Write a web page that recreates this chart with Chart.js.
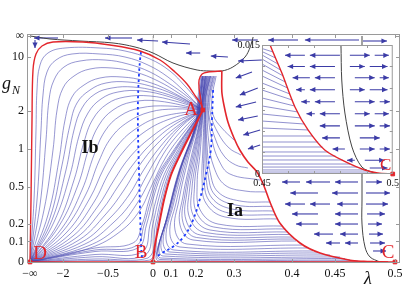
<!DOCTYPE html>
<html><head><meta charset="utf-8">
<script src="https://cdn.jsdelivr.net/npm/chart.js@4/dist/chart.umd.min.js"></script>
<style>
html,body{margin:0;padding:0;background:#fff;}
#wrap{position:relative;width:415px;height:298px;overflow:hidden;}
#main{position:absolute;left:0;top:0;}
#inset{position:absolute;left:232px;top:36px;}
</style></head>
<body><div id="wrap"><canvas id="main" width="415" height="298"></canvas><canvas id="inset" width="170" height="156"></canvas></div>
<script>
// ---------- tick labels ----------
const xTickVals = [-Infinity,-2,-0.5,0,0.1,0.2,0.3,0.4,0.45,0.5];
const xTickLabels = ['\u2212\u221e','\u22122','\u22120.5','0','0.1','0.2','0.3','0.4','0.45','0.5'];
const yTickVals = [0,0.1,0.2,0.5,1,2,10,Infinity];
const yTickLabels = ['0','0.1','0.2','0.5','1','2','10','\u221e'];
const insetXTicks = [0.45,0.5];
const insetXLabels = ['0.45','0.5'];
const insetYTicks = [0,0.015];
const insetYLabels = ['0','0.015'];

// ---------- fixed points (lambda, g_N) ----------
const fixedPoints = [[-Infinity,0],[0,0],[0.218,2.054],[0.5,0]]; // D, B, A, C

// ---------- separatrices ----------
const sepOuter = [[-Infinity,0],[-66,0.378],[-33,1.69],[-22,5.647],[-11,11.56],[-5.5,21.6],[-2.87,36.7],[-1.333,36.7],[-0.478,24.1],[-0.144,14.07],[0.039,8.417],[0.116,5.278],[0.164,3.708],[0.2,2.705],[0.213,2.324],[0.218,2.054]];
const sepBA = [[0,0],[0.011,0.081],[0.033,0.196],[0.061,0.378],[0.1,0.626],[0.136,0.899],[0.176,1.283],[0.205,1.69],[0.218,2.054]];
const sepNeck = [[0.218,2.054],[0.213,2.531],[0.208,3.346],[0.208,4.136],[0.216,4.947],[0.232,5.278],[0.268,5.457]];
const sepAC = [[0.268,5.457],[0.268,3.036],[0.274,2.229],[0.284,1.628],[0.3,1.216],[0.31,0.982],[0.324,0.794],[0.3397,0.662],[0.3517,0.507],[0.362,0.361],[0.379,0.209],[0.4093,0.0918],[0.4326,0.0415],[0.4626,0.0078],[0.474,0.0028],[0.4828,0.0013],[0.4943,0.0001]];
const sepBottom = [[-Infinity,0],[0.5,0]];

// ---------- singular lines ----------
const blackTop = [[-Infinity,Infinity],[-9.43,225],[-3.3,74.3],[-1.433,44.2],[-0.444,31.3],[-0.2,19.55],[0,12.29],[0.108,7.37],[0.203,5.647],[0.237,5.457],[0.268,5.457],[0.297,6.29],[0.319,9.76],[0.328,19.55],[0.333,225]];
const blackRight = [[0.4725,Infinity],[0.4725,0.378],[0.4725,0.202],[0.475,0.0711],[0.4792,0.0226],[0.4875,0]];
const lambdaZero = [[0,0],[0,Infinity]];

// ---------- streamlines, region Ib ----------
const flowIb = [
 [[-Infinity,0],[-16.5,0.378],[-11,1.404],[-9.43,3.185],[-6.6,6.793],[-3.67,12.29],[-1.933,17.83],[-0.767,17.83],[-0.311,14.07],[-0.033,8.826],[0.094,5.457],[0.156,3.52],[0.2,2.587],[0.218,2.054]],
 [[-Infinity,0],[-9.43,0.378],[-6,1.404],[-5.08,2.831],[-3.88,5.278],[-2.54,8.417],[-1.7,11.56],[-0.767,11.56],[-0.311,9.76],[-0.056,6.793],[0.083,4.512],[0.152,3.109],[0.218,2.054]],
 [[-Infinity,0],[-6.6,0.337],[-4.125,1.173],[-3.47,2.531],[-2.75,4.136],[-1.967,6.29],[-1.433,8.04],[-0.6,8.417],[-0.278,7.071],[-0.033,5.278],[0.094,3.708],[0.168,2.705],[0.218,2.054]],
 [[-Infinity,0],[-4.71,0.299],[-2.87,0.982],[-2.44,2.054],[-2,3.346],[-1.633,4.65],[-1.1,5.848],[-0.456,6.063],[-0.2,5.278],[0.028,4.022],[0.136,2.897],[0.218,2.054]],
 [[-Infinity,0],[-3.67,0.263],[-2.276,0.823],[-1.933,1.69],[-1.7,2.705],[-1.3,3.612],[-0.767,4.381],[-0.344,4.512],[-0.089,4.022],[0.094,3.109],[0.218,2.054]],
 [[-Infinity,0],[-3.3,0.242],[-2.06,0.752],[-1.767,1.539],[-1.533,2.373],[-1.1,3.185],[-0.567,3.809],[-0.278,3.913],[-0.033,3.52],[0.116,2.831],[0.218,2.054]],
 [[-Infinity,0],[-3,0.228],[-1.9,0.687],[-1.633,1.404],[-1.367,2.139],[-0.933,2.897],[-0.456,3.346],[-0.222,3.431],[0.0167,3.109],[0.136,2.587],[0.218,2.054]],
 [[-Infinity,0],[-2.75,0.215],[-1.767,0.626],[-1.467,1.26],[-1.167,1.935],[-0.733,2.587],[-0.389,3.036],[-0.122,3.109],[0.094,2.705],[0.218,2.054]],
 [[-Infinity,0],[-2.44,0.196],[-1.633,0.569],[-1.3,1.132],[-1,1.723],[-0.533,2.324],[-0.311,2.705],[-0.033,2.767],[0.116,2.477],[0.218,2.054]],
 [[-Infinity,0],[-2.276,0.189],[-1.5,0.517],[-1.133,1.018],[-0.8,1.539],[-0.444,2.054],[-0.233,2.424],[0.028,2.477],[0.218,2.054]],
 [[-Infinity,0],[-2.06,0.177],[-1.367,0.4675],[-0.967,0.899],[-0.6,1.379],[-0.367,1.825],[-0.144,2.139],[0.083,2.229],[0.218,2.054]],
 [[-Infinity,0],[-1.967,0.165],[-1.233,0.43],[-0.8,0.808],[-0.467,1.216],[-0.278,1.628],[-0.033,1.974],[0.116,2.096],[0.218,2.054]],
 [[-Infinity,0],[-1.867,0.153],[-1.1,0.395],[-0.633,0.712],[-0.389,1.073],[-0.178,1.457],[0.039,1.79],[0.218,2.054]],
 [[-Infinity,0],[-1.767,0.141],[-0.967,0.361],[-0.489,0.65],[-0.322,0.965],[-0.111,1.33],[0.078,1.69],[0.218,2.054]],
 [[-Infinity,0],[-1.667,0.13],[-0.833,0.329],[-0.433,0.569],[-0.256,0.868],[-0.033,1.216],[0.112,1.628],[0.218,2.054]],
 [[-Infinity,0],[-1.567,0.119],[-0.7,0.299],[-0.378,0.517],[-0.2,0.794],[0.0056,1.152],[0.124,1.598],[0.218,2.054]],
 [[-Infinity,0],[-1.467,0.108],[-0.567,0.27],[-0.322,0.4675],[-0.156,0.738],[0.022,1.093],[0.136,1.568],[0.218,2.054]],
 [[-Infinity,0],[-1.367,0.0971],[-0.478,0.242],[-0.267,0.421],[-0.111,0.674],[0.039,1.036],[0.14,1.539],[0.218,2.054]],
 [[-Infinity,0],[-1.267,0.0865],[-0.433,0.215],[-0.222,0.378],[-0.067,0.626],[0.05,0.982],[0.144,1.511],[0.218,2.054]],
 [[-Infinity,0],[-1.167,0.0762],[-0.389,0.183],[-0.189,0.337],[-0.033,0.569],[0.061,0.932],[0.148,1.43],[0.218,2.054]],
 [[-Infinity,0],[-1.1,0.066],[-0.356,0.159],[-0.144,0.299],[-0.011,0.517],[0.072,0.868],[0.152,1.354],[0.218,2.054]],
 [[-Infinity,0],[-0.933,0.066],[-0.222,0.0918],[-0.122,0.196],[-0.044,0.378],[0.028,0.626],[0.097,0.899],[0.153,1.283],[0.218,2.054]],
 [[-Infinity,0],[-0.933,0.056],[-0.189,0.0762],[-0.1,0.196],[-0.022,0.378],[0.0367,0.626],[0.103,0.899],[0.156,1.283],[0.218,2.054]],
 [[-Infinity,0],[-0.933,0.0487],[-0.167,0.066],[-0.073,0.196],[-0.002,0.378],[0.046,0.626],[0.108,0.899],[0.159,1.283],[0.218,2.054]],
 [[-Infinity,0],[-0.933,0.0343],[-0.122,0.0463],[-0.033,0.196],[0.0167,0.378],[0.061,0.626],[0.116,0.899],[0.164,1.283],[0.218,2.054]],
 [[-Infinity,0],[-0.933,0.0238],[-0.089,0.032],[-0.003,0.196],[0.03,0.378],[0.073,0.626],[0.122,0.899],[0.168,1.283],[0.218,2.054]],
 [[-Infinity,0],[-0.933,0.0135],[-0.056,0.018],[0.013,0.196],[0.043,0.378],[0.084,0.626],[0.128,0.899],[0.171,1.283],[0.218,2.054]],
 [[-Infinity,0],[-0.933,0.0067],[-0.033,0.0089],[0.023,0.196],[0.052,0.378],[0.092,0.626],[0.132,0.899],[0.174,1.283],[0.218,2.054]]
];

// ---------- streamlines, region Ia ----------
const flowIa = [
 [[0.253,4.65],[0.242,2.645],[0.245,1.861],[0.268,1.457],[0.3,1.173]],
 [[0.25,4.65],[0.237,2.645],[0.239,1.861],[0.258,1.33],[0.287,1.018],[0.312,0.899]],
 [[0.247,4.65],[0.234,2.645],[0.234,1.861],[0.25,1.216],[0.274,0.883],[0.303,0.752],[0.324,0.712]],
 [[0.245,4.65],[0.232,2.645],[0.232,1.861],[0.242,1.173],[0.261,0.808],[0.289,0.638],[0.345,0.569]],
 [[0.242,4.65],[0.229,2.645],[0.229,1.861],[0.234,1.112],[0.247,0.725],[0.276,0.517],[0.319,0.458],[0.355,0.449]],
 [[0.239,4.65],[0.226,2.645],[0.226,1.861],[0.229,1.073],[0.237,0.662],[0.258,0.449],[0.31,0.37],[0.362,0.361]],
 [[0.2382,4.65],[0.225,2.645],[0.225,1.861],[0.2263,1.045],[0.2316,0.638],[0.25,0.421],[0.3034,0.337],[0.3655,0.326]],
 [[0.237,4.65],[0.224,2.645],[0.224,1.861],[0.224,1.018],[0.226,0.614],[0.242,0.395],[0.295,0.306],[0.369,0.291]],
 [[0.2355,4.65],[0.2224,2.645],[0.2224,1.861],[0.221,1.0],[0.221,0.592],[0.2342,0.374],[0.2855,0.277],[0.3724,0.263]],
 [[0.234,4.65],[0.221,2.645],[0.221,1.861],[0.218,0.982],[0.216,0.569],[0.226,0.353],[0.276,0.249],[0.376,0.235]],
 [[0.232,4.65],[0.221,2.645],[0.218,1.861],[0.211,0.948],[0.203,0.527],[0.211,0.299],[0.258,0.202],[0.384,0.189]],
 [[0.2303,4.65],[0.2197,2.645],[0.2171,1.861],[0.2066,0.932],[0.194,0.507],[0.2013,0.2815],[0.247,0.183],[0.3888,0.171]],
 [[0.229,4.65],[0.218,2.645],[0.216,1.861],[0.203,0.915],[0.184,0.487],[0.188,0.263],[0.237,0.165],[0.393,0.153]],
 [[0.2276,4.65],[0.218,2.645],[0.2145,1.825],[0.198,0.899],[0.174,0.4675],[0.174,0.2452],[0.224,0.1501],[0.397,0.1385]],
 [[0.226,4.65],[0.218,2.645],[0.213,1.79],[0.192,0.883],[0.164,0.449],[0.16,0.228],[0.211,0.136],[0.4,0.124]],
 [[0.225,4.65],[0.2171,2.645],[0.2118,1.773],[0.186,0.868],[0.156,0.43],[0.148,0.2118],[0.2013,0.1216],[0.4023,0.113]],
 [[0.224,4.65],[0.216,2.645],[0.211,1.756],[0.18,0.852],[0.148,0.4125],[0.136,0.196],[0.188,0.108],[0.4047,0.1024]],
 [[0.224,4.65],[0.216,2.645],[0.208,1.723],[0.168,0.823],[0.132,0.378],[0.116,0.165],[0.164,0.0865],[0.4116,0.081]],
 [[0.221,4.65],[0.213,2.645],[0.205,1.69],[0.16,0.794],[0.12,0.353],[0.094,0.141],[0.136,0.0711],[0.4174,0.066]],
 [[0.221,4.65],[0.213,2.645],[0.205,1.659],[0.152,0.766],[0.108,0.329],[0.072,0.119],[0.112,0.056],[0.4244,0.0512]],
 [[0.218,4.65],[0.211,2.645],[0.203,1.628],[0.144,0.738],[0.1,0.306],[0.056,0.1024],[0.094,0.0463],[0.4326,0.0415]],
 [[0.218,4.65],[0.211,2.645],[0.203,1.598],[0.14,0.712],[0.089,0.284],[0.044,0.0865],[0.072,0.0367],[0.4442,0.032]],
 [[0.218,4.65],[0.211,2.645],[0.2,1.568],[0.136,0.687],[0.083,0.263],[0.033,0.0711],[0.056,0.0273],[0.4542,0.0226]],
 [[0.216,4.65],[0.208,2.645],[0.2,1.539],[0.132,0.662],[0.078,0.242],[0.028,0.056],[0.044,0.018],[0.4583,0.0157]],
 [[0.216,4.65],[0.208,2.645],[0.196,1.511],[0.128,0.638],[0.072,0.222],[0.022,0.0415],[0.039,0.0112],[0.4625,0.0089]],
 [[0.213,4.65],[0.205,2.645],[0.196,1.484],[0.128,0.614],[0.067,0.202],[0.0167,0.0273],[0.033,0.0044],[0.469,0.0044]]
];

// ---------- arrow-head loci (blue dashed) ----------
const dashIb = [[-0.133,13.1],[-0.144,8.417],[-0.156,4.795],[-0.167,2.531],[-0.167,1.404],[-0.156,0.687],[-0.144,0.299],[-0.133,0.081],[-0.122,0.018]];
const dashIa = [[0.245,3.185],[0.242,1.69],[0.239,0.982],[0.226,0.626],[0.211,0.395],[0.188,0.228],[0.156,0.136],[0.112,0.0762],[0.05,0.0415],[0.0167,0.0226]];

// ---------- flow arrows outside Ia/Ib: [lambda0,g0 -> lambda1,g1] ----------
const quiverMain = [
 [-2.357,112,-16.5,112],[-0.233,112,-0.6,112],[0.028,44.2,-0.178,55.5],[0.176,27.25,0.05,36.7],
 [0.341,55.5,0.295,55.5],[0.407,55.5,0.359,55.5],[0.47,55.5,0.415,55.5],[0.4733,44.2,0.4933,44.2],
 [-13.2,55.5,-13.2,17.83],
 [0.211,12.29,0.16,12.29],[0.284,9.76,0.239,10.3],[0.348,8.42,0.307,8.04],
 [0.331,5.278,0.303,4.381],[0.341,3.346,0.31,2.831],[0.338,2.424,0.303,2.183],[0.341,1.825,0.307,1.69],[0.345,1.404,0.316,1.283],[0.345,1.073,0.324,1.0],
 [0.4093,0.548,0.3828,0.548],[0.4442,0.548,0.4163,0.548],[0.4692,0.548,0.45,0.548],[0.4758,0.548,0.4892,0.548],
 [0.4302,0.4395,0.397,0.4395],[0.4692,0.4395,0.4465,0.4395],[0.4758,0.4395,0.4958,0.4395],
 [0.4151,0.345,0.3879,0.345],[0.4442,0.345,0.4209,0.345],[0.4692,0.345,0.4517,0.345],[0.4758,0.345,0.4942,0.345],
 [0.4302,0.27,0.4,0.27],[0.4692,0.27,0.45,0.27],[0.4767,0.27,0.4917,0.27],
 [0.4302,0.202,0.4047,0.202],[0.4692,0.202,0.45,0.202],[0.4775,0.202,0.4892,0.202],
 [0.4477,0.141,0.4256,0.141],[0.4692,0.141,0.4542,0.141],[0.4783,0.141,0.49,0.141],
 [0.4542,0.0918,0.4395,0.0918],[0.4692,0.0918,0.4583,0.0918],[0.4792,0.0918,0.4917,0.0918],
 [0.4817,0.0512,0.4925,0.0512]
];

// ---------- inset (0.45<lambda<0.5, 0<g<0.015) ----------
const insetFlow = [
 [[0.45,0.01459],[0.4542,0.01419]],[[0.45,0.01424],[0.4552,0.01349]],[[0.45,0.01384],[0.4561,0.01279]],
 [[0.45,0.01337],[0.4571,0.01209]],[[0.45,0.01279],[0.4581,0.0114]],[[0.45,0.01209],[0.4589,0.0107]],
 [[0.45,0.0114],[0.4598,0.0100]],[[0.45,0.01058],[0.4607,0.0093]],[[0.45,0.00977],[0.4616,0.0086]],
 [[0.45,0.00884],[0.4624,0.00791]],[[0.45,0.00791],[0.4637,0.00721]],[[0.45,0.00698],[0.465,0.00651]],
 [[0.45,0.00616],[0.4663,0.00581]],[[0.45,0.00535],[0.4676,0.00512]],[[0.45,0.00442],[0.4695,0.00442]],
 [[0.45,0.00372],[0.4715,0.00372]],[[0.45,0.00314],[0.4731,0.00314]],[[0.45,0.00256],[0.4754,0.00256]],
 [[0.45,0.00209],[0.4781,0.00209]],[[0.45,0.00163],[0.4808,0.00163]],[[0.45,0.00116],[0.4837,0.00116]],
 [[0.45,0.00081],[0.4865,0.00081]],[[0.45,0.00047],[0.4893,0.00047]],[[0.45,0.00023],[0.4926,0.00023]]
];
const insetRed = [[0.4515,0.0165],[0.4531,0.015],[0.4576,0.01174],[0.4626,0.00779],[0.4676,0.00512],[0.474,0.00279],[0.4828,0.00128],[0.4893,0.000465],[0.4943,0.000116],[0.5,0]];
const insetBlack = [[0.48,0.0165],[0.4802,0.015],[0.4805,0.01093],[0.4817,0.00709],[0.4844,0.00314],[0.4882,0.00081],[0.4931,0.00012],[0.496,0]];
const insetBottom = [[0.45,0],[0.5,0]];
const insetQuiver = [
 [0.4798,0.0138,0.4683,0.0138],[0.4664,0.0138,0.4588,0.0138],[0.4836,0.0138,0.4912,0.0138],[0.4931,0.0138,0.4985,0.0138],
 [0.4779,0.0125,0.4683,0.0125],[0.4664,0.0125,0.4598,0.0125],[0.4836,0.0125,0.4893,0.0125],[0.4912,0.0125,0.4980,0.0125],
 [0.4779,0.0112,0.4702,0.0112],[0.4683,0.0112,0.4617,0.0112],[0.4855,0.0112,0.4931,0.0112],[0.4950,0.0112,0.4985,0.0112],
 [0.4779,0.0098,0.4683,0.0098],[0.4664,0.0098,0.4630,0.0098],[0.4836,0.0098,0.4893,0.0098],[0.4912,0.0098,0.4980,0.0098],
 [0.4779,0.0084,0.4702,0.0084],[0.4683,0.0084,0.4650,0.0084],[0.4855,0.0084,0.4931,0.0084],[0.4950,0.0084,0.4989,0.0084],
 [0.4798,0.0070,0.4721,0.0070],[0.4702,0.0070,0.4670,0.0070],[0.4855,0.0070,0.4912,0.0070],[0.4931,0.0070,0.4985,0.0070],
 [0.4798,0.0056,0.4721,0.0056],[0.4855,0.0056,0.4931,0.0056],[0.4950,0.0056,0.4989,0.0056],
 [0.4798,0.0042,0.4730,0.0042],[0.4874,0.0042,0.4950,0.0042],
 [0.4817,0.0029,0.4770,0.0029],[0.4874,0.0029,0.4931,0.0029],[0.4950,0.0029,0.4989,0.0029],
 [0.4855,0.0016,0.4825,0.0016],[0.4893,0.0016,0.4969,0.0016],
 [0.4912,0.0007,0.4980,0.0007]
];

// ---------- annotations ----------
const pointNames = [{t:'A',l:0.18,g:2.054},{t:'B',l:-0.133,g:0.0415},{t:'C',l:0.4942,g:0.0415},{t:'D',l:-6.6,g:0.0367}];
const regionNames = [{t:'Ib',l:-1.1,g:1.018},{t:'Ia',l:0.3017,g:0.291}];

// ---------- compactified axes ----------
const warpLam = [-2,-0.5,0,0.1,0.2,0.3,0.4,0.45,0.5];
const warpPos = [33,78,123,141,166,204,262,305,365];
function toU(l){
  if(l===-Infinity) return 0;
  if(l<=-2) return 33*(-2/l);
  for(let i=0;i<warpLam.length-1;i++){
    if(l<=warpLam[i+1]) return warpPos[i]+(l-warpLam[i])/(warpLam[i+1]-warpLam[i])*(warpPos[i+1]-warpPos[i]);
  }
  const n=warpLam.length-1;
  return warpPos[n]+(l-warpLam[n])*(warpPos[n]-warpPos[n-1])/(warpLam[n]-warpLam[n-1]);
}
function toV(g){ return g===Infinity?1:g/(1+g); }

const SERIF='"Liberation Serif","DejaVu Serif",serif';
const RED='#e3262c', FLOW='rgba(70,70,175,0.75)', ARROW='#3b3ba6', DASH='#1d3cff', BLK='#444';

const P = pts => pts.map(([l,g])=>({x:toU(l),y:toV(g)}));
const PI = pts => pts.map(([l,g])=>({x:l,y:g}));
function ds(data,color,width,extra){
  return Object.assign({data:data,showLine:true,pointRadius:0,borderColor:color,backgroundColor:color,borderWidth:width,fill:false,tension:0.4},extra||{});
}

const arrowPlugin = {
  id:'arrowheads',
  afterDatasetsDraw(chart){
    const ctx=chart.ctx, a=chart.chartArea;
    ctx.save(); ctx.beginPath(); ctx.rect(a.left,a.top,a.right-a.left,a.bottom-a.top); ctx.clip();
    chart.data.datasets.forEach((d,i)=>{
      if(!d.arrow) return;
      const pts=chart.getDatasetMeta(i).data; const p1=pts[pts.length-1], p0=pts[pts.length-2];
      const ang=Math.atan2(p1.y-p0.y,p1.x-p0.x); const L=5.5, W=2.6;
      const c=Math.cos(ang), s=Math.sin(ang);
      ctx.fillStyle=d.borderColor; ctx.beginPath();
      ctx.moveTo(p1.x,p1.y);
      ctx.lineTo(p1.x-L*c+W*s, p1.y-L*s-W*c);
      ctx.lineTo(p1.x-L*c-W*s, p1.y-L*s+W*c);
      ctx.closePath(); ctx.fill();
    });
    ctx.restore();
  }
};

function frameTicks(chart, xs, ys, len){
  const ctx=chart.ctx, a=chart.chartArea, x=chart.scales.x, y=chart.scales.y;
  ctx.save(); ctx.strokeStyle='#9a9a9a'; ctx.lineWidth=1;
  ctx.strokeRect(a.left+0.5,a.top+0.5,a.right-a.left-1,a.bottom-a.top-1);
  ctx.beginPath();
  xs.forEach(v=>{ const px=Math.round(x.getPixelForValue(v))+0.5; ctx.moveTo(px,a.bottom); ctx.lineTo(px,a.bottom-len); ctx.moveTo(px,a.top); ctx.lineTo(px,a.top+len); });
  ys.forEach(v=>{ const py=Math.round(y.getPixelForValue(v))+0.5; ctx.moveTo(a.left,py); ctx.lineTo(a.left+len,py); ctx.moveTo(a.right,py); ctx.lineTo(a.right-len,py); });
  ctx.stroke(); ctx.restore();
}

const mainDecor = {
  id:'mainDecor',
  afterDraw(chart){
    frameTicks(chart, xTickVals.map(toU), yTickVals.map(toV), 4);
    const ctx=chart.ctx, x=chart.scales.x, y=chart.scales.y;
    ctx.save(); ctx.textAlign='center'; ctx.textBaseline='middle';
    ctx.fillStyle=RED; ctx.font='19px '+SERIF;
    pointNames.forEach(p=>ctx.fillText(p.t, x.getPixelForValue(toU(p.l)), y.getPixelForValue(toV(p.g))));
    ctx.fillStyle='#111'; ctx.font='bold 18px '+SERIF;
    regionNames.forEach(p=>ctx.fillText(p.t, x.getPixelForValue(toU(p.l)), y.getPixelForValue(toV(p.g))));
    ctx.textBaseline='alphabetic';
    ctx.font='italic 18px '+SERIF; ctx.fillText('\u03bb', 368, 284);
    ctx.textAlign='left';
    ctx.font='italic 18px '+SERIF; ctx.fillText('g', 2, 89);
    ctx.font='italic 12px '+SERIF; ctx.fillText('N', 12, 94);
    ctx.restore();
  }
};

// ---------- main chart datasets ----------
const mainSets = [];
flowIb.forEach(f=>mainSets.push(ds(P(f),FLOW,0.75,{order:5})));
flowIa.forEach(f=>mainSets.push(ds(P(f),FLOW,0.75,{order:5})));
mainSets.push(ds(P(lambdaZero),'#b5b5b5',0.8,{order:6,tension:0}));
mainSets.push(ds(P(blackTop),BLK,1,{order:2,tension:0.35}));
mainSets.push(ds(P(blackRight),BLK,1,{order:2,tension:0.35}));
mainSets.push(ds(P(dashIb),DASH,1.8,{order:1,borderDash:[2.5,3]}));
mainSets.push(ds(P(dashIa),DASH,1.8,{order:1,borderDash:[2.5,3]}));
quiverMain.forEach(q=>mainSets.push(ds(P([[q[0],q[1]],[q[2],q[3]]]),ARROW,1.1,{order:3,tension:0,arrow:true})));
mainSets.push(ds(P(sepBottom),RED,1.6,{order:0,tension:0}));
mainSets.push(ds(P(sepOuter),RED,1.4,{order:0,tension:0.35}));
mainSets.push(ds(P(sepBA),RED,2,{order:0,tension:0.3}));
mainSets.push(ds(P(sepNeck),RED,1.3,{order:0,tension:0.3}));
mainSets.push(ds(P(sepAC),RED,1.6,{order:0,tension:0.3}));
mainSets.push({data:P(fixedPoints),showLine:false,pointRadius:2.6,pointStyle:'rect',pointBackgroundColor:RED,pointBorderColor:RED,order:-1,clip:false});

new Chart(document.getElementById('main'),{
  type:'scatter',
  data:{datasets:mainSets},
  options:{
    responsive:false, animation:false, events:[],
    layout:{padding:{top:34,right:15,left:0,bottom:0}},
    plugins:{legend:{display:false},tooltip:{enabled:false}},
    scales:{
      x:{type:'linear',min:-3,max:370,grid:{display:false,drawTicks:false},border:{display:false},
         afterBuildTicks:s=>{s.ticks=xTickVals.map(l=>({value:toU(l)}));},
         afterFit:s=>{s.height=35;},
         ticks:{autoSkip:false,maxRotation:0,padding:4,color:'#111',font:{family:SERIF,size:12},callback:(v,i)=>xTickLabels[i]}},
      y:{type:'linear',min:-1/226,max:1+2/226,grid:{display:false,drawTicks:false},border:{display:false},
         afterBuildTicks:s=>{s.ticks=yTickVals.map(g=>({value:toV(g)}));},
         afterFit:s=>{s.width=27;},
         ticks:{autoSkip:false,padding:3,color:'#111',font:{family:SERIF,size:12},callback:(v,i)=>yTickLabels[i]}}
    }
  },
  plugins:[arrowPlugin,mainDecor]
});

// ---------- inset chart ----------
const insetDecor = {
  id:'insetDecor',
  beforeDatasetsDraw(chart){
    const ctx=chart.ctx,a=chart.chartArea; ctx.save(); ctx.fillStyle='#fff'; ctx.fillRect(a.left,a.top,a.right-a.left,a.bottom-a.top); ctx.restore();
  },
  afterDraw(chart){
    frameTicks(chart,[0.46,0.47,0.48,0.49],[0.0025,0.005,0.0075,0.01,0.0125],3);
    const ctx=chart.ctx,x=chart.scales.x,y=chart.scales.y;
    ctx.save(); ctx.fillStyle=RED; ctx.font='17px '+SERIF; ctx.textAlign='center'; ctx.textBaseline='middle';
    ctx.fillText('C', x.getPixelForValue(0.4973), y.getPixelForValue(0.00093));
    ctx.restore();
  }
};
const insetSets = [];
insetFlow.forEach(f=>insetSets.push(ds(PI(f),FLOW,0.8,{order:5,tension:0})));
insetSets.push(ds(PI(insetBlack),BLK,1,{order:2,tension:0.3}));
insetQuiver.forEach(q=>insetSets.push(ds(PI([[q[0],q[1]],[q[2],q[3]]]),ARROW,1.1,{order:3,tension:0,arrow:true})));
insetSets.push(ds(PI(insetRed),RED,1.4,{order:0,tension:0.3}));
insetSets.push(ds(PI(insetBottom),RED,1.6,{order:0,tension:0}));
insetSets.push({data:PI([[0.5,0]]),showLine:false,pointRadius:2.6,pointStyle:'rect',pointBackgroundColor:RED,pointBorderColor:RED,order:-1,clip:false});

new Chart(document.getElementById('inset'),{
  type:'scatter',
  data:{datasets:insetSets},
  options:{
    responsive:false, animation:false, events:[],
    layout:{padding:{top:9,right:9,left:0,bottom:0}},
    plugins:{legend:{display:false},tooltip:{enabled:false}},
    scales:{
      x:{type:'linear',min:0.45,max:0.5,grid:{display:false,drawTicks:false},border:{display:false},
         afterBuildTicks:s=>{s.ticks=insetXTicks.map(v=>({value:v}));},
         afterFit:s=>{s.height=18;},
         ticks:{autoSkip:false,maxRotation:0,padding:3,color:'#111',font:{family:SERIF,size:10},callback:(v,i)=>insetXLabels[i]}},
      y:{type:'linear',min:0,max:0.015,grid:{display:false,drawTicks:false},border:{display:false},
         afterBuildTicks:s=>{s.ticks=insetYTicks.map(v=>({value:v}));},
         afterFit:s=>{s.width=30;},
         ticks:{autoSkip:false,padding:2,color:'#111',font:{family:SERIF,size:10},callback:(v,i)=>insetYLabels[i]}}
    }
  },
  plugins:[arrowPlugin,insetDecor]
});
</script>
</body></html>
